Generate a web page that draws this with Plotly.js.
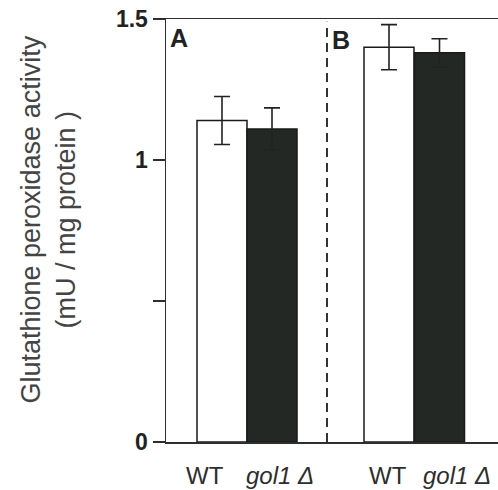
<!DOCTYPE html>
<html><head><meta charset="utf-8">
<script src="https://cdn.plot.ly/plotly-3.0.1.min.js"></script>
<style>html,body{margin:0;padding:0;background:#fff;}</style>
</head><body><div id="chart" style="width:498px;height:490px;"></div>
<script>
// ---- data ----
const categories = ['WT', 'gol1 Δ', 'WT', 'gol1 Δ'];
const panels = ['A', 'A', 'B', 'B'];
const activity = [1.14, 1.11, 1.40, 1.38];
const activityErr = [0.085, 0.075, 0.08, 0.05];
const yTickVals = [0, 0.5, 1, 1.5];
const yTickText = ['0', '', '1', '1.5'];
const yTitle = 'Glutathione peroxidase activity<br>(mU / mg protein )';

// ---- layout helpers (positions / styles) ----
const barX = [1.12, 2.12, 4.46, 5.47];
const labelX = [0.78, 2.28, 4.44, 5.82];
const panelLabelPos = {A: [0.26, 1.434], B: [3.5, 1.424]};
const dividerX = 3.22;
const fills = categories.map(c => c === 'WT' ? '#ffffff' : '#232825');
const ink = '#2e2e2e';
const fontFam = 'Liberation Sans, Arial, Helvetica, sans-serif';

const trace = {
  type: 'bar',
  x: barX,
  y: activity,
  width: 1.0,
  marker: {color: fills, line: {color: '#1a1a1a', width: 1.5}},
  error_y: {type: 'data', array: activityErr, visible: true, color: '#222', thickness: 1.6, width: 8},
  hoverinfo: 'skip'
};

const annotations = [];
categories.forEach((c, i) => {
  annotations.push({
    xref: 'x', yref: 'paper', x: labelX[i], y: 0, yshift: -33,
    xanchor: 'center', yanchor: 'middle', showarrow: false,
    text: c.startsWith('gol1') ? '<i>' + c + '</i>' : c,
    font: {family: fontFam, size: 24, color: ink}
  });
});
[...new Set(panels)].forEach(p => {
  annotations.push({
    xref: 'x', yref: 'y', x: panelLabelPos[p][0], y: panelLabelPos[p][1],
    xanchor: 'center', yanchor: 'middle', showarrow: false,
    text: '<b>' + p + '</b>',
    font: {family: fontFam, size: 25, color: '#222'}
  });
});
annotations.push({
  xref: 'paper', yref: 'paper', x: -0.354, y: 0.527,
  xanchor: 'center', yanchor: 'middle', showarrow: false, textangle: -90,
  text: yTitle,
  font: {family: fontFam, size: 27, color: '#444'}
});

const layout = {
  width: 498, height: 490,
  margin: {l: 166, r: 0, t: 19, b: 48, pad: 0},
  paper_bgcolor: '#fff', plot_bgcolor: '#fff',
  showlegend: false,
  xaxis: {
    range: [0, 6.64], showgrid: false, zeroline: false,
    showline: true, mirror: true, linecolor: ink, linewidth: 1.5,
    ticks: '', showticklabels: false, fixedrange: true
  },
  yaxis: {
    range: [0, 1.5], showgrid: false, zeroline: false,
    showline: true, linecolor: ink, linewidth: 1.5,
    ticks: 'outside', ticklen: 12, tickwidth: 1.5, tickcolor: ink,
    tickvals: yTickVals, ticktext: yTickText,
    tickfont: {family: fontFam, size: 23, color: '#222', weight: 'bold'},
    fixedrange: true
  },
  shapes: [{
    type: 'line', xref: 'x', yref: 'y', x0: dividerX, x1: dividerX, y0: 0, y1: 1.49,
    line: {color: '#333', width: 2, dash: '9px,6px'}
  }],
  annotations: annotations
};

Plotly.newPlot('chart', [trace], layout, {staticPlot: true, displayModeBar: false});
</script>
</body></html>
